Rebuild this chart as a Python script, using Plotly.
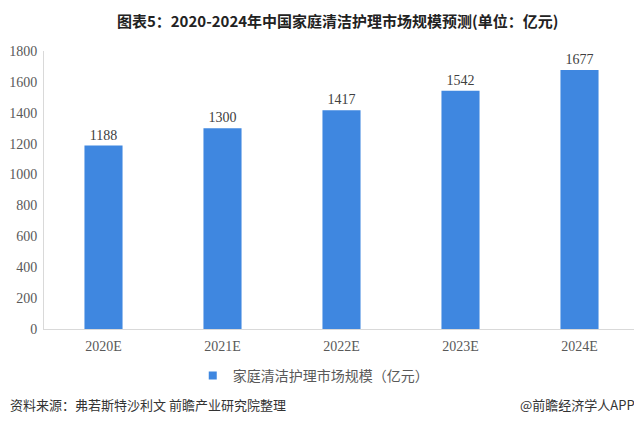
import plotly.graph_objects as go

categories = ["2020E", "2021E", "2022E", "2023E", "2024E"]
values = [1188, 1300, 1417, 1542, 1677]
series_name = "家庭清洁护理市场规模（亿元）"
title = "图表5：2020-2024年中国家庭清洁护理市场规模预测(单位：亿元)"
source = "资料来源：弗若斯特沙利文 前瞻产业研究院整理"
brand = "@前瞻经济学人APP"

CJK = "Noto Sans CJK SC"
SERIF = "Liberation Serif"
BAR = "#3f87e0"

fig = go.Figure()
fig.add_trace(go.Bar(
    x=categories, y=values, name=series_name, showlegend=False,
    marker=dict(color=BAR, line=dict(width=0)),
    text=[str(v) for v in values], textposition="outside",
    textfont=dict(family=SERIF, size=14, color="#404040"),
    cliponaxis=False,
))
fig.add_trace(go.Scatter(
    x=[None], y=[None], mode="markers", name=series_name,
    marker=dict(symbol="square", size=8, color=BAR),
))

fig.update_layout(
    width=634, height=417,
    paper_bgcolor="white", plot_bgcolor="white",
    margin=dict(l=36, r=3, t=43, b=96, autoexpand=False),
    bargap=0.68,
    showlegend=True,
    legend=dict(orientation="h", x=0.25, xanchor="left", y=-0.169, yanchor="middle",
                font=dict(family=CJK, size=14, color="#595959"),
                itemwidth=30, tracegroupgap=0),
    title=dict(text=title, x=0.52, xanchor="center", y=0.966, yanchor="middle",
               font=dict(family=CJK, size=15, color="#222222", weight="bold")),
    yaxis=dict(range=[0, 1800], dtick=200, showgrid=False, showline=True,
               linecolor="#d9d9d9", linewidth=1, zeroline=False, automargin=False,
               ticks="", tickfont=dict(family=SERIF, size=14, color="#595959"),
               ticklabelstandoff=3),
    xaxis=dict(showline=True, linecolor="#d9d9d9", linewidth=1, ticks="", automargin=False,
               tickfont=dict(family=SERIF, size=14, color="#595959"),
               ticklabelstandoff=4),
    annotations=[
        dict(text=source, xref="paper", yref="paper", x=-0.0605, y=-0.273,
             xanchor="left", yanchor="middle", showarrow=False,
             font=dict(family=CJK, size=13, color="#333333")),
        dict(text=brand, xref="paper", yref="paper", x=0.996, y=-0.273,
             xanchor="right", yanchor="middle", showarrow=False,
             font=dict(family=CJK, size=13, color="#333333")),
    ],
)

fig.write_html("out.html")
